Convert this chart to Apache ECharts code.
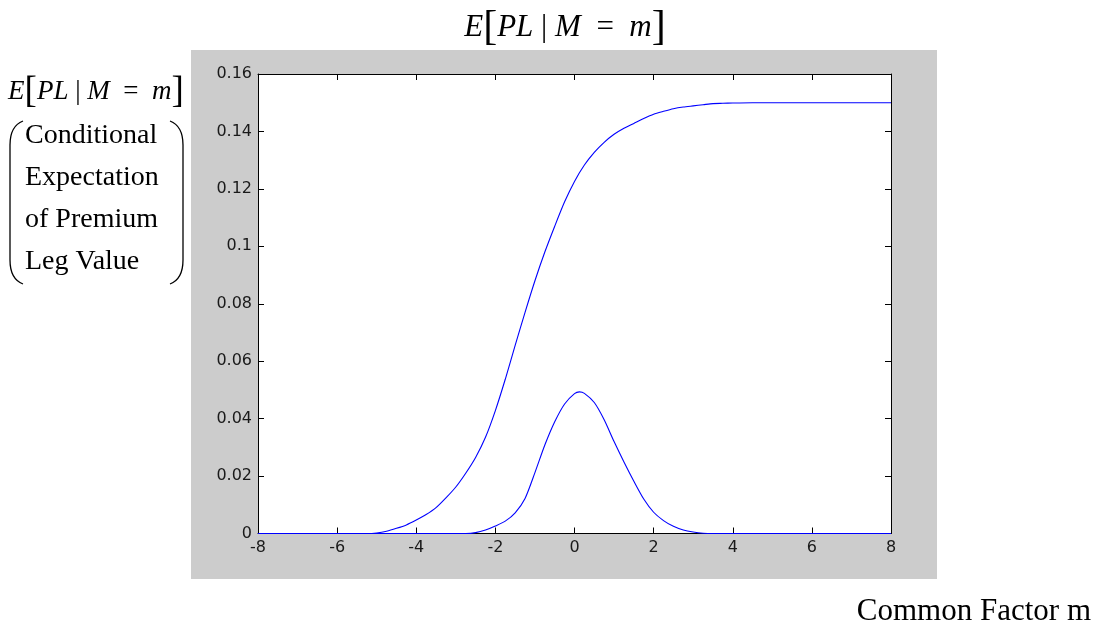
<!DOCTYPE html>
<html>
<head>
<meta charset="utf-8">
<script src="https://cdn.jsdelivr.net/npm/echarts@6/dist/echarts.min.js"></script>
<style>
  html, body { margin: 0; padding: 0; background: #ffffff; }
  #chart { width: 1098px; height: 631px; }
</style>
</head>
<body>
<div id="chart"></div>
<script>
// Curve 1: conditional expectation of premium leg value (S-shaped)
var legX = [-8, -5.25, -5, -4.75, -4.5, -4.25, -4, -3.75, -3.5, -3.25, -3, -2.75, -2.5, -2.25, -2, -1.75, -1.5, -1.25, -1, -0.75, -0.5, -0.25, 0, 0.25, 0.5, 0.75, 1, 1.25, 1.5, 1.75, 2, 2.25, 2.5, 2.75, 3, 3.25, 3.5, 3.75, 4, 4.5, 8];
var legY = [0, 0, 0.0002, 0.0008, 0.0018, 0.0030, 0.0047, 0.0066, 0.0090, 0.0124, 0.0162, 0.0210, 0.0265, 0.0335, 0.0428, 0.0537, 0.0655, 0.0770, 0.0880, 0.0980, 0.1070, 0.1155, 0.1226, 0.1283, 0.1327, 0.1362, 0.1390, 0.1411, 0.1428, 0.1445, 0.1460, 0.1470, 0.1479, 0.1485, 0.1489, 0.1493, 0.1497, 0.1498, 0.1499, 0.1500, 0.1500];

// Curve 2: bell-shaped curve
var bellX = [-8, -2.75, -2.5, -2.25, -2, -1.75, -1.5, -1.25, -1, -0.75, -0.5, -0.25, 0, 0.125, 0.25, 0.5, 0.75, 1, 1.25, 1.5, 1.75, 2, 2.25, 2.5, 2.75, 3, 3.25, 3.5, 8];
var bellY = [0, 0, 0.0003, 0.0012, 0.0026, 0.0043, 0.0072, 0.0122, 0.0212, 0.0308, 0.0389, 0.0451, 0.0487, 0.0493, 0.0488, 0.0456, 0.0396, 0.0320, 0.0249, 0.0182, 0.0120, 0.0074, 0.0045, 0.0025, 0.0012, 0.0005, 0.0001, 0, 0];

// Axis ranges / ticks
var xMin = -8, xMax = 8, xStep = 2;
var yMin = 0, yMax = 0.16, yStep = 0.02;

// Texts
var yLabelLines = ['Conditional', 'Expectation', 'of Premium', 'Leg Value'];
var xLabelText = 'Common Factor m';

function pairs(xs, ys) {
  var out = [];
  for (var i = 0; i < xs.length; i++) out.push([xs[i], ys[i]]);
  return out;
}

var chart = echarts.init(document.getElementById('chart'), null, { renderer: 'canvas' });

var tickFont = { fontFamily: 'DejaVu Sans, Arial, sans-serif', fontSize: 16, color: '#1a1a1a' };
var serif = 'Liberation Serif, Times New Roman, serif';

function eqRich(size) {
  return {
    i: { fontFamily: serif, fontStyle: 'italic', fontSize: size, color: '#000' },
    n: { fontFamily: serif, fontSize: size, color: '#000' },
    b: { fontFamily: serif, fontSize: Math.round(size * 1.36), color: '#000' }
  };
}
var eqText = '{i|E}{b|[}{i|PL}{n| | }{i|M}{n|  =  }{i|m}{b|]}';

var graphics = [
  { type: 'rect', z: -10, shape: { x: 191, y: 50, width: 746, height: 529 }, style: { fill: '#cccccc' }, silent: true },
  // Title
  { type: 'text', x: 565, y: 28, style: { text: eqText, rich: eqRich(31), align: 'center', verticalAlign: 'middle' } },
  // Y label equation
  { type: 'text', x: 96, y: 92, style: { text: eqText, rich: eqRich(27), align: 'center', verticalAlign: 'middle' } },
  // X label
  { type: 'text', x: 1091, y: 612, style: { text: xLabelText, fontFamily: serif, fontSize: 31, fill: '#000', align: 'right', verticalAlign: 'middle' } }
];
for (var k = 0; k < yLabelLines.length; k++) {
  graphics.push({ type: 'text', x: 25, y: 136 + k * 42, style: { text: yLabelLines[k], fontFamily: serif, fontSize: 28, fill: '#000', align: 'left', verticalAlign: 'middle' } });
}
// Big parentheses around the y label
var parenStyle = { stroke: '#000', lineWidth: 1.3, fill: null };
graphics.push(
  { type: 'bezierCurve', shape: { x1: 23, y1: 121, cpx1: 10, cpy1: 126, x2: 10, y2: 145 }, style: parenStyle },
  { type: 'line', shape: { x1: 10, y1: 145, x2: 10, y2: 260 }, style: parenStyle },
  { type: 'bezierCurve', shape: { x1: 10, y1: 260, cpx1: 10, cpy1: 279, x2: 23, y2: 284 }, style: parenStyle },
  { type: 'bezierCurve', shape: { x1: 170, y1: 121, cpx1: 183, cpy1: 126, x2: 183, y2: 145 }, style: parenStyle },
  { type: 'line', shape: { x1: 183, y1: 145, x2: 183, y2: 260 }, style: parenStyle },
  { type: 'bezierCurve', shape: { x1: 183, y1: 260, cpx1: 183, cpy1: 279, x2: 170, y2: 284 }, style: parenStyle }
);

var axisLineStyle = { show: true, onZero: false, lineStyle: { color: '#000', width: 1 } };
var tickStyle = { show: true, inside: true, length: 6, lineStyle: { color: '#000', width: 1 } };

var option = {
  animation: false,
  backgroundColor: '#ffffff',
  graphic: graphics,
  grid: {
    left: 258, right: 207, top: 74, bottom: 97.5,
    show: true, backgroundColor: '#ffffff', borderWidth: 0
  },
  xAxis: [
    {
      type: 'value', min: xMin, max: xMax, interval: xStep, position: 'bottom',
      axisLine: axisLineStyle, axisTick: tickStyle, splitLine: { show: false },
      axisLabel: Object.assign({ margin: 6 }, tickFont)
    },
    {
      type: 'value', min: xMin, max: xMax, interval: xStep, position: 'top',
      axisLine: axisLineStyle, axisTick: tickStyle, splitLine: { show: false },
      axisLabel: { show: false }
    }
  ],
  yAxis: [
    {
      type: 'value', min: yMin, max: yMax, interval: yStep, position: 'left',
      axisLine: axisLineStyle, axisTick: tickStyle, splitLine: { show: false },
      axisLabel: Object.assign({ margin: 6 }, tickFont)
    },
    {
      type: 'value', min: yMin, max: yMax, interval: yStep, position: 'right',
      axisLine: axisLineStyle, axisTick: tickStyle, splitLine: { show: false },
      axisLabel: { show: false }
    }
  ],
  series: [
    {
      name: 'Premium leg', type: 'line', xAxisIndex: 0, yAxisIndex: 0,
      data: pairs(legX, legY), showSymbol: false, smooth: 0.25, clip: false,
      lineStyle: { color: '#0000ff', width: 1.1 }, z: 5
    },
    {
      name: 'Bell', type: 'line', xAxisIndex: 0, yAxisIndex: 0,
      data: pairs(bellX, bellY), showSymbol: false, smooth: 0.25, clip: false,
      lineStyle: { color: '#0000ff', width: 1.1 }, z: 5
    }
  ]
};
chart.setOption(option);
</script>
</body>
</html>
